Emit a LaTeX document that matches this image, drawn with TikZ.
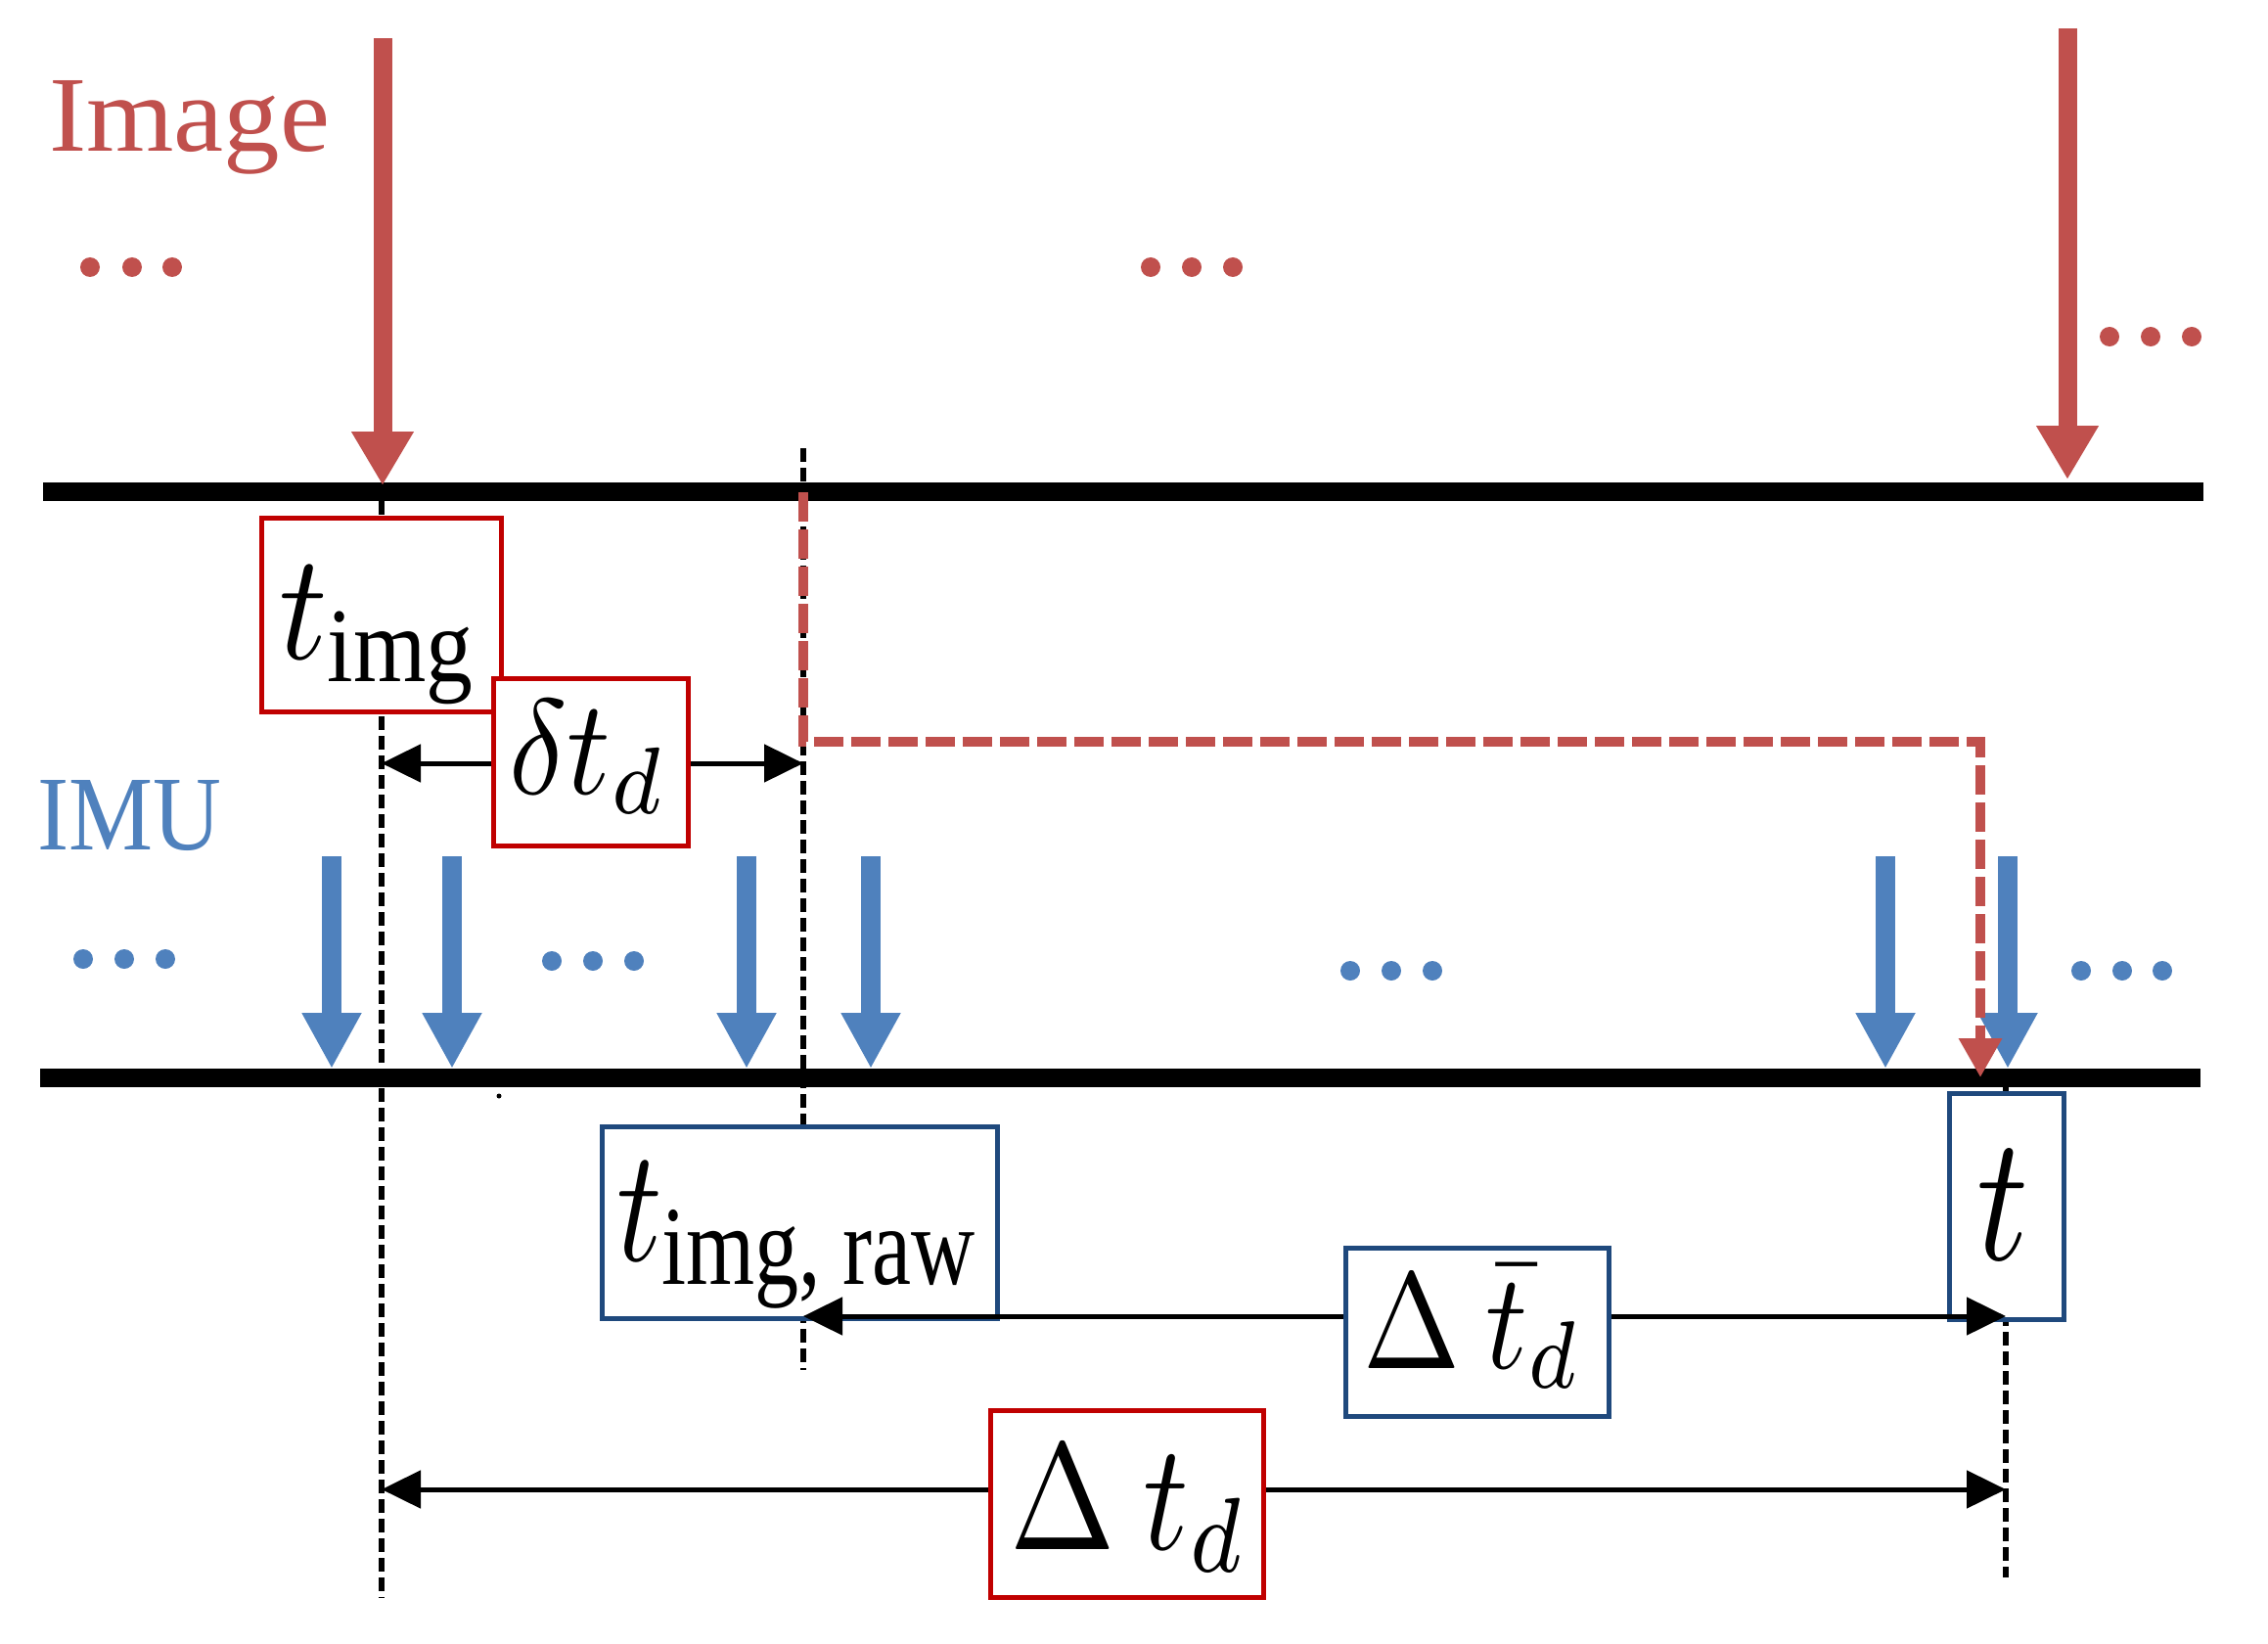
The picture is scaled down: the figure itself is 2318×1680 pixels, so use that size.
\documentclass[tikz,border=0pt]{standalone}
\usepackage{amsmath}
\usepackage[no-math]{fontspec}
\setmainfont{Liberation Serif}
\usetikzlibrary{arrows.meta}
\definecolor{imgred}{HTML}{C0504D}
\definecolor{imublue}{HTML}{4F81BD}
\definecolor{boxred}{HTML}{C00000}
\definecolor{boxblue}{HTML}{1F497D}
\begin{document}
\begin{tikzpicture}[x=1pt,y=-1pt,
  timeline/.style={line width=19pt},
  bigred/.style={draw=imgred, line width=19pt, -{Triangle[length=55pt,width=60pt]}},
  bigblue/.style={draw=imublue, line width=20pt, -{Triangle[length=57pt,width=57pt]}},
  guide/.style={line width=5.5pt, dash pattern=on 14pt off 6pt},
  measure/.style={line width=5pt, {Triangle[length=40pt,width=38pt]}-{Triangle[length=40pt,width=38pt]}},
  shiftpath/.style={draw=imgred, line width=9.5pt, dash pattern=on 30pt off 8pt, -{Triangle[length=40pt,width=42pt]}},
  redbox/.style={draw=boxred, line width=5.5pt, fill=white, inner sep=0pt},
  bluebox/.style={draw=boxblue, line width=5.5pt, fill=white, inner sep=0pt},
  lab/.style={inner sep=0pt, anchor=base west},
  reddot/.style={fill=imgred},
  bluedot/.style={fill=imublue}
]
\useasboundingbox (0,0) rectangle (2318,1680);

% timelines
\coordinate (imgL) at (44,502.5);
\coordinate (imgR) at (2252,502.5);
\coordinate (imuL) at (41,1101);
\coordinate (imuR) at (2249,1101);
\draw[timeline] (imgL) -- (imgR);
\draw[timeline] (imuL) -- (imuR);

% guide lines
\coordinate (g1a) at (390,512);
\coordinate (g1b) at (390,1633);
\coordinate (g2a) at (821,458);
\coordinate (g2b) at (821,1400);
\coordinate (g3a) at (2050,1101);
\coordinate (g3b) at (2050,1612);
\draw[guide] (g1a) -- (g1b);
\draw[guide] (g2a) -- (g2b);
\draw[guide] (g3a) -- (g3b);

% IMU arrows
\foreach \x/\n in {339/1,462/2,763/3,890/4,1927/5,2052/6}{
  \coordinate (b\n s) at (\x,875);
  \coordinate (b\n e) at (\x,1092);
  \draw[bigblue] (b\n s) -- (b\n e);
}

% image arrows
\coordinate (r1s) at (391,39);
\coordinate (r1e) at (391,496);
\coordinate (r2s) at (2113,29);
\coordinate (r2e) at (2113,490);
\draw[bigred] (r1s) -- (r1e);
\draw[bigred] (r2s) -- (r2e);

% red shifted path
\coordinate (p0) at (821,503);
\coordinate (p1) at (821,758);
\coordinate (p2) at (2024,758);
\coordinate (p3) at (2024,1101);
\draw[shiftpath] (p0) -- (p1) -- (p2) -- (p3);

% boxes (lower layer)
\node[redbox, minimum width=245pt, minimum height=198pt] (timgbox) at (390,628.5) {};
\node[bluebox, minimum width=404pt, minimum height=196pt] (rawbox) at (817.5,1249.5) {};
\node[bluebox, minimum width=117pt, minimum height=231pt] (tbox) at (2051,1233) {};

% measurement arrows
\coordinate (m1a) at (390,780);
\coordinate (m1b) at (821,780);
\draw[measure] (m1a) -- (m1b);
\coordinate (m2a) at (821,1345);
\coordinate (m2b) at (2050,1345);
\draw[measure] (m2a) -- (m2b);
\coordinate (m3a) at (390,1522);
\coordinate (m3b) at (2050,1522);
\draw[measure] (m3a) -- (m3b);

% boxes (upper layer)
\node[redbox, minimum width=199pt, minimum height=171pt] (dbox) at (604,779) {};
\node[bluebox, minimum width=269pt, minimum height=172pt] (dbarbox) at (1510,1361.5) {};
\node[redbox, minimum width=279pt, minimum height=191pt] (Dbox) at (1152,1537) {};

% labels
\node[lab] (timglab) at (285,673) {\resizebox{205pt}{95pt}{$t_{\text{img}}$}};
\node[lab] (dlab) at (520,811) {\resizebox{162pt}{96pt}{$\delta t_d$}};
\node[lab] (rawlab) at (630,1288) {\resizebox{373pt}{101pt}{$t_{\text{img, raw}}$}};
\node[lab] (tlab) at (2020,1287) {\resizebox{53pt}{112pt}{$t$}};
\node[lab] (dbarlab) at (1393,1398) {\resizebox{224pt}{105pt}{$\Delta\:\bar{t}_d$}};
\node[lab] (Dlab) at (1032,1583) {\resizebox{243pt}{106pt}{$\Delta\:t_d$}};

\node[lab, text=imgred] (imagelab) at (50,155) {\resizebox{287pt}{72pt}{Image}};
\node[lab, text=imublue] (imulab) at (38,868) {\resizebox{188pt}{71pt}{IMU}};

% ellipsis dots
\foreach \x in {92,135,176,1176,1218,1260}{\fill[reddot] (\x,273) circle (10pt);}
\foreach \x in {2156,2198,2240}{\fill[reddot] (\x,344) circle (10pt);}
\foreach \x in {85,127,169}{\fill[bluedot] (\x,980) circle (10pt);}
\foreach \x in {564,606,648}{\fill[bluedot] (\x,982) circle (10pt);}
\foreach \x in {1380,1422,1464,2127,2169,2210}{\fill[bluedot] (\x,992) circle (10pt);}

% stray mark
\fill (510,1120) circle (2.5pt);
\end{tikzpicture}
\end{document}
